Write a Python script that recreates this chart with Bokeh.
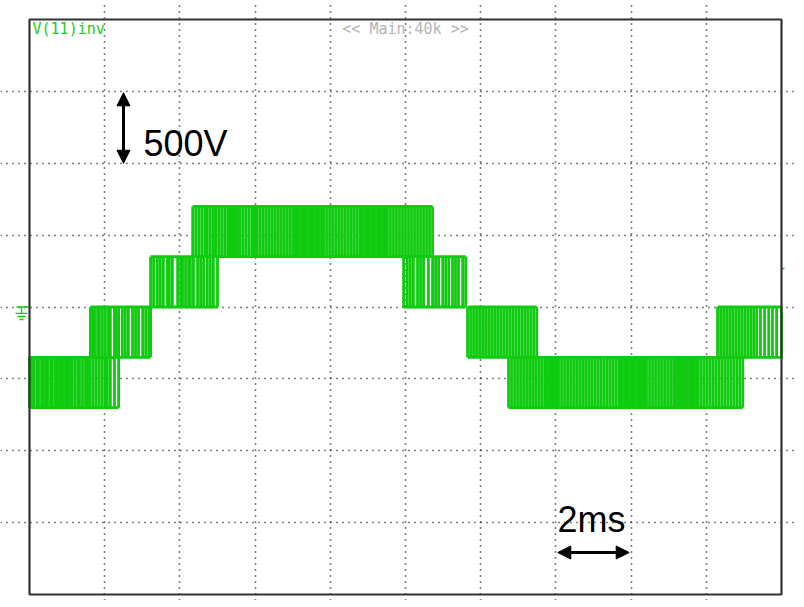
from bokeh.plotting import figure
from bokeh.models import (Range1d, Grid, FixedTicker, BoxAnnotation, Label,
                          Arrow, NormalHead)
from bokeh.embed import file_html
from bokeh.resources import INLINE

# ---------------- data (time in ms, voltage in V) ----------------
# switching edges of each voltage band of the multilevel output
band_a_t = [0.00, 0.05, 0.11, 0.19, 0.24, 0.32, 0.37, 0.43, 0.48, 0.56, 0.61, 0.69,
            0.74, 0.80, 0.85, 0.90, 0.96, 1.01, 1.06, 1.12, 1.20, 1.28, 1.33, 1.41,
            1.49, 1.54, 1.60, 1.68, 1.76, 1.84, 1.92, 2.00, 2.07, 2.15, 2.26, 2.37]
band_b_t = [1.62, 1.68, 1.73, 1.81, 1.86, 1.94, 2.02, 2.10, 2.15, 2.26, 2.31, 2.37,
            2.47, 2.55, 2.63, 2.74, 2.82, 2.90, 3.01, 3.09, 3.17, 3.22]
band_c_t = [3.22, 3.30, 3.40, 3.48, 3.56, 3.67, 3.72, 3.80, 3.94, 4.02, 4.07, 4.15,
            4.23, 4.28, 4.36, 4.47, 4.55, 4.63, 4.73, 4.81, 4.89, 5.00]
band_d_t = [4.34, 4.42, 4.50, 4.58, 4.66, 4.73, 4.81, 4.89, 4.95, 5.03, 5.11, 5.19,
            5.27, 5.32, 5.37, 5.40, 5.45, 5.48, 5.53, 5.59, 5.67, 5.75, 5.83, 5.91,
            5.96, 6.01, 6.06, 6.14, 6.22, 6.30, 6.38, 6.46, 6.54, 6.62, 6.70, 6.78,
            6.86, 6.94, 7.02, 7.08, 7.13, 7.18, 7.24, 7.29, 7.34, 7.39, 7.45, 7.50,
            7.55, 7.61, 7.66, 7.71, 7.77, 7.82, 7.90, 7.98, 8.06, 8.14, 8.22, 8.30,
            8.38, 8.46, 8.54, 8.62, 8.70, 8.78, 8.83, 8.88, 8.94, 8.99, 9.04, 9.10,
            9.15, 9.20, 9.26, 9.31, 9.36, 9.42, 9.47, 9.52, 9.60, 9.68, 9.76, 9.84,
            9.92, 10.00, 10.08, 10.16, 10.24, 10.32, 10.40, 10.48, 10.56, 10.64, 10.72]
band_e_t = [9.95, 10.05, 10.13, 10.21, 10.32, 10.40, 10.48, 10.61, 10.72, 10.80,
            10.88, 10.99, 11.07, 11.15, 11.25, 11.33, 11.41, 11.52, 11.60]
band_f_t = [11.65, 11.73, 11.81, 11.89, 11.97, 12.05, 12.13, 12.21, 12.29, 12.37,
            12.45, 12.53, 12.61, 12.69, 12.77, 12.85, 12.93, 13.01, 13.09, 13.17,
            13.25, 13.33, 13.41, 13.49]
band_g_t = [12.74, 12.82, 12.90, 12.98, 13.06, 13.14, 13.22, 13.30, 13.38, 13.46,
            13.54, 13.62, 13.70, 13.75, 13.81, 13.86, 13.91, 13.97, 14.02, 14.07,
            14.15, 14.23, 14.31, 14.39, 14.47, 14.55, 14.63, 14.71, 14.79, 14.87,
            14.95, 15.03, 15.11, 15.19, 15.27, 15.35, 15.43, 15.51, 15.59, 15.67,
            15.72, 15.77, 15.83, 15.88, 15.93, 15.99, 16.04, 16.09, 16.15, 16.20,
            16.25, 16.31, 16.36, 16.41, 16.49, 16.57, 16.65, 16.73, 16.81, 16.89,
            16.97, 17.05, 17.13, 17.18, 17.24, 17.29, 17.34, 17.40, 17.45, 17.50,
            17.56, 17.61, 17.66, 17.72, 17.77, 17.85, 17.93, 18.01, 18.09, 18.17,
            18.25, 18.33, 18.41, 18.49, 18.57, 18.65, 18.73, 18.81, 18.89, 18.97]
band_h_t = [18.30, 18.38, 18.46, 18.54, 18.62, 18.70, 18.78, 18.86, 18.94, 19.02,
            19.10, 19.18, 19.26, 19.34, 19.44, 19.55, 19.66, 19.76, 19.87, 20.00]

# low / high voltage level of each band
band_low = [-700, -350, 0, 350, 0, -350, -700, -350]
band_high = [-350, 0, 350, 700, 350, 0, -350, 0]

grid_t = [2, 4, 6, 8, 10, 12, 14, 16, 18]
grid_v = [-1500, -1000, -500, 0, 500, 1000, 1500]
trigger_v = 268

GREEN = "#0FCB0F"

# ---------------- figure ----------------
p = figure(width=796, height=600, output_backend="svg", toolbar_location=None,
           x_range=Range1d(-0.7713, 20.399), y_range=Range1d(-2041.7, 2132.2),
           x_axis_location=None, y_axis_location=None,
           min_border=0, min_border_left=0, min_border_right=0,
           min_border_top=0, min_border_bottom=0)
p.outline_line_color = None
p.background_fill_color = "white"
p.border_fill_color = "white"
p.xgrid.visible = False
p.ygrid.visible = False

p.add_layout(Grid(dimension=0, ticker=FixedTicker(ticks=grid_t), bounds=(-2000, 2000),
                  grid_line_color="#000000", grid_line_dash="1 5", grid_line_width=1.6))
p.add_layout(Grid(dimension=1, ticker=FixedTicker(ticks=grid_v), bounds=(0, 20),
                  grid_line_color="#000000", grid_line_dash="1 5", grid_line_width=1.6))

bands = [band_a_t, band_b_t, band_c_t, band_d_t, band_e_t, band_f_t, band_g_t, band_h_t]
vx, vy0, vy1 = [], [], []
hx0, hx1, hy = [], [], []
for times, lo, hi in zip(bands, band_low, band_high):
    for t in times:
        vx.append(t); vy0.append(lo); vy1.append(hi)
    hx0 += [min(times), min(times)]
    hx1 += [max(times), max(times)]
    hy += [lo, hi]

p.segment(x0=vx, y0=vy0, x1=vx, y1=vy1, line_color=GREEN, line_width=2.8)
p.segment(x0=hx0, y0=hy, x1=hx1, y1=hy, line_color=GREEN, line_width=2.8)

# ground marker at the left edge
p.segment(x0=[-0.346, -0.213, -0.372, -0.319, -0.266],
          y0=[0, 0, -45, -66, -87],
          x1=[-0.02, -0.213, -0.053, -0.106, -0.160],
          y1=[0, -45, -45, -66, -87], line_color=GREEN, line_width=1.3)
# trigger level marker at the right edge
p.segment(x0=[20.0], y0=[trigger_v], x1=[20.08], y1=[trigger_v], line_color=GREEN, line_width=1.5)

# screen frame
p.add_layout(BoxAnnotation(left=0, right=20, bottom=-2000, top=2000,
                           fill_alpha=0, line_color="#333333", line_alpha=1.0,
                           line_width=2.2))

# texts
p.add_layout(Label(x=0.08, y=1937, text="V(11)inv", text_color="#22CC22",
                   text_font="DejaVu Sans Mono", text_font_size="15px",
                   text_baseline="middle", text_align="left"))
p.add_layout(Label(x=10, y=1937, text="<< Main:40k >>", text_color="#B4B4B4",
                   text_font="DejaVu Sans Mono", text_font_size="15px",
                   text_baseline="middle", text_align="center"))
p.add_layout(Label(x=3.03, y=1137, text="500V", text_color="black",
                   text_font="Liberation Sans", text_font_size="36px",
                   text_baseline="alphabetic", text_align="left"))
p.add_layout(Label(x=14.04, y=-1478, text="2ms", text_color="black",
                   text_font="Liberation Sans", text_font_size="36px",
                   text_baseline="alphabetic", text_align="left"))

# scale arrows
p.add_layout(Arrow(start=NormalHead(size=13, fill_color="black", line_color="black"),
                   end=NormalHead(size=13, fill_color="black", line_color="black"),
                   x_start=2.50, y_start=1490, x_end=2.50, y_end=1000,
                   line_color="black", line_width=3))
p.add_layout(Arrow(start=NormalHead(size=13, fill_color="black", line_color="black"),
                   end=NormalHead(size=13, fill_color="black", line_color="black"),
                   x_start=14.05, y_start=-1708, x_end=15.95, y_end=-1708,
                   line_color="black", line_width=3))

open("out.html", "w").write(file_html(p, INLINE))
